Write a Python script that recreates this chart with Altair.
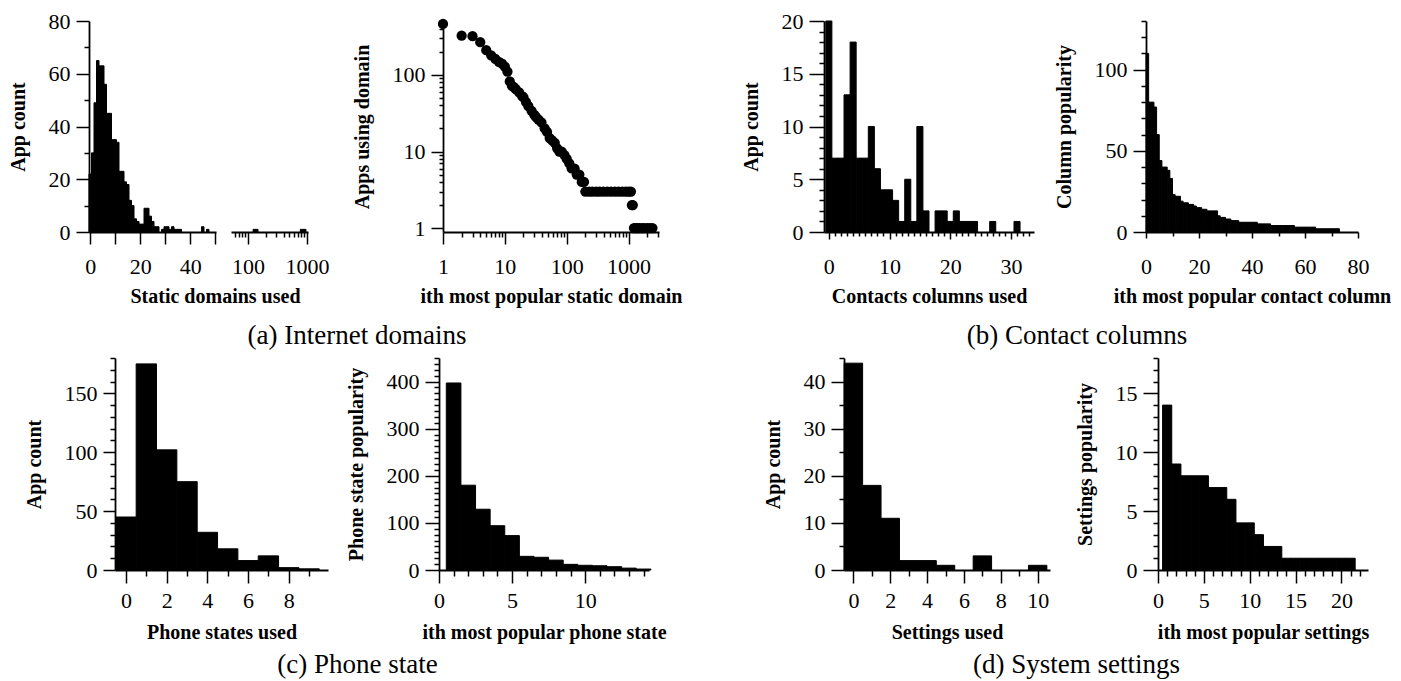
import altair as alt
import pandas as pd

FONT = "Liberation Serif"

# ---------------- data ----------------
# (a) static domains used per app: bins of width 1 starting at 0
dom_used_counts = [22, 30, 49, 65, 63, 63, 56, 45, 45, 35, 35, 34, 23, 23, 19, 18, 12, 10, 5, 4,
                   3, 3, 9, 9, 6, 4, 2, 2, 0, 1, 2, 2, 1, 2, 1, 1, 1, 0, 0, 0,
                   0, 0, 0, 0, 0, 2, 0, 1, 0, 0]
# tail of the same histogram shown on the log-scaled part of the broken axis
dom_tail_lo = [122, 770]
dom_tail_hi = [148, 960]
dom_tail_cnt = [1, 1]

# (a) apps using the i-th most popular static domain
dom_rank = [1, 2, 3, 4, 5, 6, 7, 8, 9, 10, 11, 12, 13, 14, 15,
            17, 19, 20, 22, 24, 27, 30, 32, 35, 39,
            44, 48, 53, 58, 64, 70, 76, 83, 92, 100,
            110, 120, 134, 145, 160, 175, 190, 200,
            230, 260, 300, 340, 390, 450, 520, 600, 690, 790, 900, 1000, 1090,
            1130, 1170,
            1220, 1300, 1400, 1500, 1650, 1800, 2000, 2200, 2430]
dom_apps = [462, 325, 320, 267, 210, 180, 162, 148, 140, 128, 110, 82, 72, 69, 65,
            59, 53, 51, 44, 39, 34, 30, 28, 26, 24,
            20, 18, 15, 14, 13, 11, 10, 10, 9, 8,
            7, 6, 6, 5, 5, 4, 4, 3,
            3, 3, 3, 3, 3, 3, 3, 3, 3, 3, 3, 3, 3,
            2, 2,
            1, 1, 1, 1, 1, 1, 1, 1, 1]

# (b) contacts columns used per app (0..31)
contacts_used = [20, 7, 7, 13, 18, 7, 7, 10, 6, 4, 4, 3, 1, 5, 1, 10, 2, 0, 2, 2,
                 1, 2, 1, 1, 1, 0, 0, 1, 0, 0, 0, 1]
# (b) popularity of the i-th most popular contact column (rank 1..73)
contact_col_pop = [110, 80, 80, 77, 60, 44, 40, 40, 38, 33,
                   23, 22, 22, 19, 18, 18, 17, 17, 16, 15,
                   15, 14, 14, 13, 13, 13, 13, 10, 9, 9,
                   8, 8, 7, 7, 7, 6, 6, 6, 6, 6,
                   6, 6, 5, 5, 5, 5, 5, 4, 4, 4,
                   4, 4, 4, 4, 4, 4, 3, 3, 3, 3,
                   3, 3, 3, 3, 2, 2, 2, 2, 2, 2,
                   2, 2, 2]

# (c) phone states used per app (0..9) and popularity by rank (1..14)
phone_used = [45, 175, 102, 75, 32, 18, 8, 12, 2, 1]
phone_pop = [397, 180, 129, 94, 73, 29, 27, 21, 12, 10, 9, 7, 4, 2]

# (d) settings used per app (0..10) and popularity by rank (1..21)
settings_used = [44, 18, 11, 2, 2, 1, 0, 3, 0, 0, 1]
settings_pop = [14, 9, 8, 8, 8, 7, 7, 6, 4, 4, 3, 2, 2, 1, 1, 1, 1, 1, 1, 1, 1]

captions = ["(a) Internet domains", "(b) Contact columns", "(c) Phone state", "(d) System settings"]


# ---------------- helpers ----------------
def rng(a, b, step=1):
    out = []
    v = a
    while v <= b + 1e-9:
        out.append(round(v, 6))
        v += step
    return out


def make_axis(major, minor, major_len, minor_len, title=None, label_pad=4, **kw):
    vals = sorted(set(list(major) + list(minor)))
    test = " || ".join(f"datum.value === {m}" for m in major)
    return alt.Axis(
        values=vals,
        tickSize={"condition": {"test": test, "value": major_len}, "value": minor_len},
        labelExpr=f"({test}) ? datum.label : ''",
        format="d",
        labelPadding=label_pad,
        title=title,
        **kw,
    )


def hist_df(values, start, left_offset):
    k = list(range(start, start + len(values)))
    df = pd.DataFrame({"k": k, "v": values})
    df = df[df["v"] > 0].copy()
    df["x0"] = df["k"] - left_offset
    df["x1"] = df["x0"] + 1
    df["base"] = 0
    return df


def bar_panel(df, xdom, ydom, width, height, xaxis, yaxis):
    return (
        alt.Chart(df)
        .mark_rect(color="black", stroke="black", strokeWidth=1)
        .encode(
            x=alt.X("x0:Q", scale=alt.Scale(domain=xdom, nice=False, zero=False), axis=xaxis),
            x2=alt.X2("x1:Q"),
            y=alt.Y("v:Q", scale=alt.Scale(domain=ydom, nice=False), axis=yaxis),
            y2=alt.Y2("base:Q"),
        )
        .properties(width=width, height=height)
    )


def spacer(w, h=1):
    return (
        alt.Chart(pd.DataFrame({"a": [0]}))
        .mark_point(opacity=0)
        .encode(x=alt.value(0), y=alt.value(0))
        .properties(width=w, height=h)
    )


def caption(text, w, dy):
    return (
        alt.Chart(pd.DataFrame({"a": [0]}))
        .mark_point(opacity=0)
        .encode(x=alt.value(0), y=alt.value(0))
        .properties(
            width=w,
            height=1,
            title=alt.TitleParams(
                text, orient="top", anchor="middle", frame="group", font=FONT,
                fontSize=27, fontWeight="normal", color="black", offset=0,
                baseline="middle", dy=dy,
            ),
        )
    )


H1 = 211
H2 = 212
# x-axis label / title paddings per row
R1, R1T = 3, 9
R2, R2T = 1, 11
YPAD = 6

# ---------------- row 1 ----------------
p1l = bar_panel(
    hist_df(dom_used_counts, 0, 0.5), [-0.5, 50.3], [0, 80], 127, H1,
    make_axis([0, 20, 40], [10, 30, 50], 12, 12, title="Static domains used",
              label_pad=9 + R1, titlePadding=R1T, titleX=126),
    make_axis([0, 20, 40, 60, 80], [10, 30, 50, 70], 13, 5, title="App count", label_pad=YPAD),
)

tail_df = pd.DataFrame({"lo": dom_tail_lo, "hi": dom_tail_hi, "v": dom_tail_cnt, "base": [0, 0]})
p1r = (
    alt.Chart(tail_df)
    .mark_rect(color="black", stroke="black", strokeWidth=1)
    .encode(
        x=alt.X("lo:Q", scale=alt.Scale(type="log", domain=[51.5, 1040], nice=False),
                axis=make_axis([100, 1000], [60, 70, 80, 90] + rng(200, 900, 100), 12, 5,
                               title=None, label_pad=9 + R1)),
        x2=alt.X2("hi:Q"),
        y=alt.Y("v:Q", scale=alt.Scale(domain=[0, 80], nice=False), axis=None),
        y2=alt.Y2("base:Q"),
    )
    .properties(width=77, height=H1)
)

rank_df = pd.DataFrame({"rank": dom_rank, "apps": dom_apps})
p2 = (
    alt.Chart(rank_df)
    .mark_circle(size=105, color="black", opacity=1)
    .encode(
        x=alt.X("rank:Q", scale=alt.Scale(type="log", domain=[1, 3100], nice=False),
                axis=make_axis([1, 10, 100, 1000],
                               rng(2, 9) + rng(20, 90, 10) + rng(200, 900, 100) + [2000, 3000],
                               12, 5, title="ith most popular static domain",
                               label_pad=9 + R1, titlePadding=R1T)),
        y=alt.Y("apps:Q", scale=alt.Scale(type="log", domain=[0.89, 505], nice=False),
                axis=make_axis([1, 10, 100], rng(2, 9) + rng(20, 90, 10) + rng(200, 500, 100),
                               12, 4, title="Apps using domain", label_pad=YPAD)),
    )
    .properties(width=216, height=H1)
)

p3 = bar_panel(
    hist_df(contacts_used, 0, 0.5), [-0.8, 33.8], [0, 20], 210, H1,
    make_axis([0, 10, 20, 30], rng(0, 33), 7, 4, title="Contacts columns used",
              label_pad=14 + R1, titlePadding=R1T),
    make_axis([0, 5, 10, 15, 20], rng(0, 20), 15, 5, title="App count", label_pad=YPAD),
)

p4 = bar_panel(
    hist_df(contact_col_pop, 1, 1.0), [0, 80], [0, 130], 212, H1,
    make_axis([0, 20, 40, 60, 80], [10, 30, 50, 70], 6, 4,
              title="ith most popular contact column", label_pad=15 + R1, titlePadding=R1T),
    make_axis([0, 50, 100], rng(0, 130, 10), 13, 5, title="Column popularity", label_pad=YPAD),
)

# ---------------- row 2 ----------------
p5 = bar_panel(
    hist_df(phone_used, 0, 0.5), [-0.54, 9.93], [0, 180], 213, H2,
    make_axis([0, 2, 4, 6, 8], [1, 3, 5, 7, 9], 13, 6, title="Phone states used",
              label_pad=6 + R2, titlePadding=R2T),
    make_axis([0, 50, 100, 150], rng(0, 180, 10), 12, 5, title="App count", label_pad=YPAD),
)

p6 = bar_panel(
    hist_df(phone_pop, 1, 0.5), [0, 14.37], [0, 450], 210, H2,
    make_axis([0, 5, 10], rng(0, 14), 13, 6, title="ith most popular phone state",
              label_pad=6 + R2, titlePadding=R2T),
    make_axis([0, 100, 200, 300, 400], rng(0, 450, 12.5), 14, 5,
              title="Phone state popularity", label_pad=YPAD),
)

p7 = bar_panel(
    hist_df(settings_used, 0, 0.5), [-0.51, 10.67], [0, 45.1], 206, H2,
    make_axis([0, 2, 4, 6, 8, 10], [1, 3, 5, 7, 9], 13, 6, title="Settings used",
              label_pad=6 + R2, titlePadding=R2T),
    make_axis([0, 10, 20, 30, 40], [5, 15, 25, 35, 45], 13, 5, title="App count", label_pad=YPAD),
)

p8 = bar_panel(
    hist_df(settings_pop, 1, 0.5), [0, 22.9], [0, 18], 210, H2,
    make_axis([0, 5, 10, 15, 20], rng(0, 22), 13, 6, title="ith most popular settings",
              label_pad=6 + R2, titlePadding=R2T),
    make_axis([0, 5, 10, 15], rng(0, 18), 15, 5, title="Settings popularity", label_pad=YPAD),
)

CAP1_DY = 345
CAP2_DY = 337

row1 = alt.hconcat(
    p1l, spacer(15), p1r, caption(captions[0], 98, CAP1_DY), spacer(37), p2, spacer(165),
    p3, caption(captions[1], 86, CAP1_DY), spacer(26), p4,
    spacing=0, bounds="flush",
)
row2 = alt.hconcat(
    spacer(26), p5, caption(captions[2], 59, CAP2_DY), spacer(52), p6, spacer(195),
    p7, caption(captions[3], 53, CAP2_DY), spacer(55), p8,
    spacing=0, bounds="flush",
)

chart = (
    alt.vconcat(row1, row2, spacing=337, bounds="flush")
    .properties(
        padding={"left": 0, "top": 2, "right": 0, "bottom": 0},
        background="white",
    )
    .configure_view(stroke=None)
    .configure_axis(
        grid=False,
        domainColor="black",
        domainWidth=1.8,
        tickColor="black",
        tickWidth=1.5,
        labelColor="black",
        labelFont=FONT,
        labelFontSize=22,
        labelOverlap=False,
        labelFlush=False,
        labelBound=False,
        titleColor="black",
        titleFont=FONT,
        titleFontSize=20,
        titleFontWeight="bold",
        titlePadding=12,
    )
    .configure_axisY(titlePadding=20)
)

chart.save("out.html", embed_options={"renderer": "svg", "actions": False})
